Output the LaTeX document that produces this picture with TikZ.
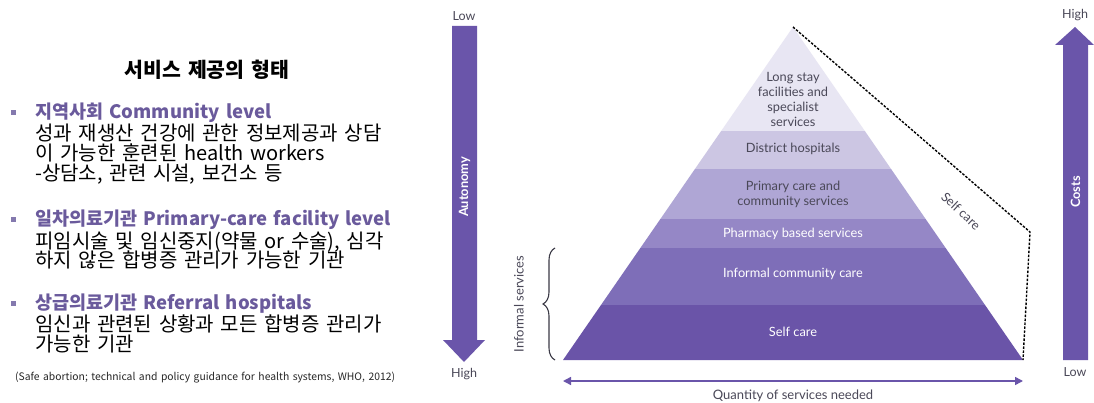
\documentclass[tikz,border=0pt]{standalone}
\usepackage{fontspec}
\setmainfont{Lato}
\newfontfamily\kr[WordSpace=1.5]{Noto Sans CJK KR}
\usetikzlibrary{decorations.pathreplacing,arrows.meta,calc}
\definecolor{arrowc}{HTML}{6A55AA}
\definecolor{headc}{HTML}{6A5A9C}
\definecolor{bulc}{HTML}{8479AE}
\definecolor{darktext}{HTML}{4A4858}
\definecolor{bandA}{HTML}{E8E6F3}
\definecolor{bandB}{HTML}{CCC6E3}
\definecolor{bandC}{HTML}{AFA6D5}
\definecolor{bandD}{HTML}{9587C6}
\definecolor{bandE}{HTML}{7E6EB8}
\definecolor{bandF}{HTML}{6A54A8}
\begin{document}
\begin{tikzpicture}[x=1pt,y=-1pt,
  krline/.style={anchor=base west, inner sep=0pt, font=\kr\fontsize{20}{22}\selectfont, text=black},
  krhead/.style={krline, font=\kr\bfseries\fontsize{18.5}{22}\selectfont, text=headc},
  bul/.style={fill=bulc, minimum size=5pt, inner sep=0pt},
  pyrlabel/.style={font=\fontsize{12.8}{15}\selectfont, align=center, text=darktext, inner sep=0pt},
  pyrwhite/.style={pyrlabel, text=white},
  axlabel/.style={font=\fontsize{12.5}{14}\selectfont, text=darktext, inner sep=0pt},
  arrlabel/.style={font=\bfseries\fontsize{12.8}{14}\selectfont, text=white, rotate=90, inner sep=0pt}
]
\useasboundingbox (0,0) rectangle (1094,403);
\fill[white] (0,0) rectangle (1094,403);

% ---- left text ----
\node[anchor=base, inner sep=0pt, font=\kr\bfseries\fontsize{20.5}{24}\selectfont] (title) at (207,78) {서비스 제공의 형태};

\node[bul] (b1) at (13,113) {};
\node[krhead] (h1) at (35,119) {지역사회 Community level};
\node[krline] (l11) at (35,141) {성과 재생산 건강에 관한 정보제공과 상담};
\node[krline] (l12) at (35,161) {이 가능한 훈련된 health workers};
\node[krline] (l13) at (35,181) {-상담소, 관련 시설, 보건소 등};

\node[bul] (b2) at (13,220) {};
\node[krhead] (h2) at (35,226) {일차의료기관 Primary-care facility level};
\node[krline] (l21) at (35,248) {피임시술 및 임신중지(약물 or 수술), 심각};
\node[krline] (l22) at (35,268) {하지 않은 합병증 관리가 가능한 기관};

\node[bul] (b3) at (13,303) {};
\node[krhead] (h3) at (35,309) {상급의료기관 Referral hospitals};
\node[krline] (l31) at (35,331) {임신과 관련된 상황과 모든 합병증 관리가};
\node[krline] (l32) at (35,351) {가능한 기관};

\node[anchor=base west, inner sep=0pt, font=\kr\fontsize{10.35}{12}\selectfont, text=black!85] (cite) at (15,380) {(Safe abortion; technical and policy guidance for health systems, WHO, 2012)};

% ---- autonomy arrow ----
\fill[arrowc] (452,26) -- (477,26) -- (477,340) -- (485,340) -- (464,362) -- (443,340) -- (452,340) -- cycle;
\node[arrlabel] (auto) at (464.5,187) {Autonomy};
\node[axlabel] (alow) at (464,16) {Low};
\node[axlabel] (ahigh) at (464,374) {High};

% ---- costs arrow ----
\fill[arrowc] (1063,360) -- (1088,360) -- (1088,45) -- (1094,45) -- (1075,27) -- (1055,45) -- (1063,45) -- cycle;
\node[arrlabel] (costs) at (1075.5,192) {Costs};
\node[axlabel] (chigh) at (1075,15) {High};
\node[axlabel] (clow) at (1075,372) {Low};

% ---- pyramid ----
\coordinate (A) at (793,27);
\coordinate (L) at (563,360);
\coordinate (R) at (1023,360);
\begin{scope}
  \clip (A) -- (R) -- (L) -- cycle;
  \fill[bandA] (540,20) rectangle (1040,131);
  \fill[bandB] (540,131) rectangle (1040,169);
  \fill[bandC] (540,169) rectangle (1040,219);
  \fill[bandD] (540,219) rectangle (1040,248);
  \fill[bandE] (540,248) rectangle (1040,305);
  \fill[bandF] (540,305) rectangle (1040,361);
\end{scope}

\node[pyrlabel] (p1) at (793,99) {Long stay\\facilities and\\specialist\\services};
\node[pyrlabel] (p2) at (793,149) {District hospitals};
\node[pyrlabel] (p3) at (793,194) {Primary care and\\community services};
\node[pyrwhite] (p4) at (793,234) {Pharmacy based services};
\node[pyrwhite] (p5) at (793,274) {Informal community care};
\node[pyrwhite] (p6) at (793,332) {Self care};

% ---- dashed self care outline ----
\coordinate (D) at (1030,232);
\draw[black, line width=1.4pt, dash pattern=on 2.5pt off 1.5pt] (A) -- (D) -- (R);
\node[pyrlabel, rotate=-43] (sc) at (961,211) {Self care};

% ---- brace ----
\coordinate (brB) at (555,360);
\coordinate (brT) at (555,248);
\draw[darktext!80!black, line width=1.1pt, decorate, decoration={brace, amplitude=12pt}] (brB) -- (brT);
\node[axlabel, rotate=90, font=\fontsize{13}{14}\selectfont] (inf) at (519,304) {Informal services};

% ---- quantity arrow ----
\coordinate (qL) at (563,381);
\coordinate (qR) at (1023,381);
\draw[arrowc, line width=1.5pt, {Triangle[length=8pt,width=8pt]}-{Triangle[length=8pt,width=8pt]}] (qL) -- (qR);
\node[axlabel, font=\fontsize{13}{14}\selectfont] (qty) at (793,396) {Quantity of services needed};
\end{tikzpicture}
\end{document}
